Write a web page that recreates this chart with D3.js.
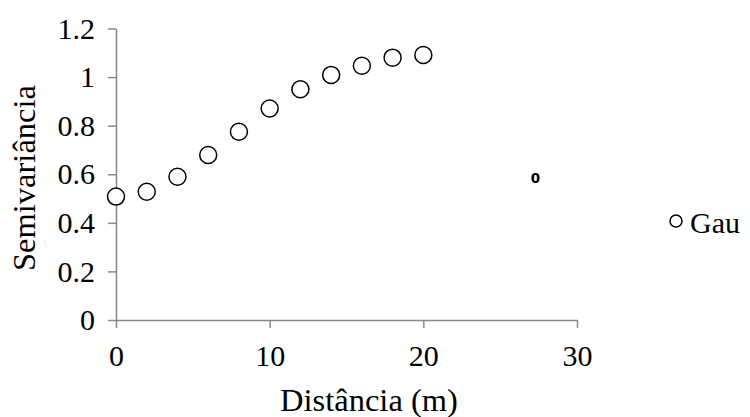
<!DOCTYPE html>
<html>
<head>
<meta charset="utf-8">
<script src="https://cdn.jsdelivr.net/npm/d3@7"></script>
<style>
    body { margin: 0; background: #fff; }
    svg text { font-family: 'Liberation Serif', Tinos, 'Times New Roman', 'DejaVu Serif', serif; }
</style>
</head>
<body>
<svg id="chart"></svg>
<script>
// data
const distances = [0, 2, 4, 6, 8, 10, 12, 14, 16, 18, 20]
const semivariance = [0.508, 0.528, 0.590, 0.679, 0.775, 0.871, 0.950, 1.009, 1.047, 1.080, 1.091]
const xTicks = [0, 10, 20, 30]
const yTicks = [0, 0.2, 0.4, 0.6, 0.8, 1, 1.2]
const strayLabel = {x: 27.3, y: 0.585, text: "0"}
const seriesName = "Gau"

const serif = "'Liberation Serif', Tinos, 'Times New Roman', 'DejaVu Serif', serif"

class ScatterChart {
    constructor() {
        this.visWidth = 750
        this.visHeight = 417
        this.margins = {left: 116, right: 173, top: 28.5, bottom: 97}
        this.fontSize = 30

        this.svg = d3.select("#chart").attr("width", this.visWidth).attr("height", this.visHeight)

        this.scaleX = d3.scaleLinear().domain([0, 30]).range([this.margins.left, this.visWidth - this.margins.right])
        this.scaleY = d3.scaleLinear().domain([0, 1.2]).range([this.visHeight - this.margins.bottom, this.margins.top])

        this.drawAxis()
        this.drawAxisLabels()
        this.drawPoints()
        this.drawLegend()
    }

    drawAxis() {
        let xAxis = d3.axisBottom(this.scaleX).tickValues(xTicks).tickSize(8).tickPadding(17).tickSizeOuter(0)
        let yAxis = d3.axisLeft(this.scaleY).tickValues(yTicks).tickSize(8).tickPadding(13).tickSizeOuter(0)
            .tickFormat(d => +d.toFixed(1))

        let gx = this.svg.append("g").attr("transform", `translate(0, ${this.scaleY(0)})`).call(xAxis)
        let gy = this.svg.append("g").attr("transform", `translate(${this.scaleX(0)}, 0)`).call(yAxis)

        ;[gx, gy].forEach(g => {
            g.attr("font-size", null).attr("font-family", null)
            g.select(".domain").attr("stroke", "#898989").attr("stroke-width", 1.5)
            g.selectAll(".tick line").attr("stroke", "#898989").attr("stroke-width", 1.5)
            g.selectAll(".tick text")
                .style("font-family", serif)
                .style("font-size", this.fontSize + "px")
                .attr("fill", "#000")
        })
    }

    drawAxisLabels() {
        let labels = this.svg.append("g").style("font-size", "32.5px").style("font-family", serif)
        labels.append("text").text("Distância (m)")
            .attr("x", 369).attr("y", 411)
            .attr("text-anchor", "middle")
        labels.append("text").text("Semivariância")
            .attr("transform", `translate(35, 178) rotate(-90)`)
            .attr("text-anchor", "middle")
    }

    drawPoints() {
        let pts = distances.map((d, i) => [d, semivariance[i]])
        this.svg.append("g").selectAll("circle")
            .data(pts)
            .join("circle")
            .attr("cx", d => this.scaleX(d[0]))
            .attr("cy", d => this.scaleY(d[1]))
            .attr("r", 8.5)
            .attr("fill", "#fff")
            .attr("stroke", "#000")
            .attr("stroke-width", 1.5)

        this.svg.append("text").text(strayLabel.text)
            .attr("x", this.scaleX(strayLabel.x)).attr("y", this.scaleY(strayLabel.y))
            .attr("dy", "0.36em")
            .attr("text-anchor", "middle")
            .style("font-family", "'DejaVu Sans', sans-serif")
            .style("font-weight", "bold")
            .style("font-size", "13.5px")
    }

    drawLegend() {
        let legend = this.svg.append("g").attr("transform", `translate(676, 221)`)
        legend.append("circle").attr("r", 6).attr("fill", "#fff").attr("stroke", "#000").attr("stroke-width", 1.5)
        legend.append("text").text(seriesName).attr("x", 14).attr("y", 12)
            .style("font-family", serif).style("font-size", "30px")
    }
}

new ScatterChart()
</script>
</body>
</html>
